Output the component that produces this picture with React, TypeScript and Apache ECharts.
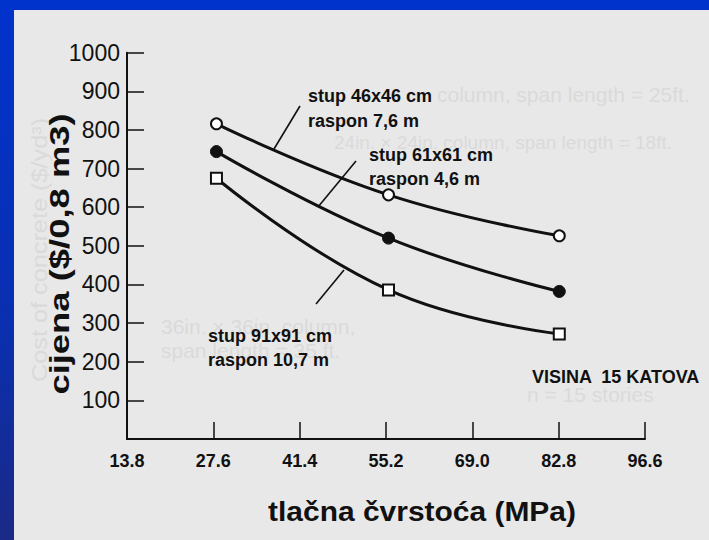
import React, { useEffect, useRef } from 'react';
import * as echarts from 'echarts';

// ---- data ----
const xTicks = [13.8, 27.6, 41.4, 55.2, 69.0, 82.8, 96.6];
const yTicks = [100, 200, 300, 400, 500, 600, 700, 800, 900, 1000];
const strengthX = [28.1, 55.6, 82.9];
const cost46 = [816, 632, 526];
const cost61 = [744, 520, 382];
const cost91 = [675, 386, 272];
const seriesNames = ['stup 46x46 cm', 'stup 61x61 cm', 'stup 91x91 cm'];
const spanNames = ['raspon 7,6 m', 'raspon 4,6 m', 'raspon 10,7 m'];
const xTitle = 'tlačna čvrstoća (MPa)';
const yTitle = 'cijena ($/0,8 m3)';
const noteText = 'VISINA  15 KATOVA';

const FONT = "'Liberation Sans', Arial, Helvetica, sans-serif";
const NARROW = "'Liberation Sans Narrow', 'Arial Narrow', 'Liberation Sans', Arial, sans-serif";
const INK = '#111111';
const GHOST = '#dadada';

export default function App() {
  const ref = useRef<HTMLDivElement>(null);

  useEffect(() => {
    if (!ref.current) return;
    const chart = echarts.init(ref.current, undefined, { renderer: 'svg' });

    const mk = (vals: number[]) => strengthX.map((x, i) => [x, vals[i]]);
    const lineBase = {
      type: 'line',
      smooth: 0.45,
      lineStyle: { color: INK, width: 3 },
      z: 3,
    };

    const txt = (text: string, x: number, y: number, extra: any = {}) => ({
      type: 'text',
      x,
      y,
      z: 10,
      style: {
        text,
        fill: INK,
        fontSize: 18,
        fontWeight: 'bold',
        fontFamily: FONT,
        textAlign: 'left',
        textVerticalAlign: 'middle',
        ...extra,
      },
    });
    const ghost = (text: string, x: number, y: number, extra: any = {}, el: any = {}) => ({
      type: 'text',
      x,
      y,
      z: 0,
      silent: true,
      ...el,
      style: {
        text,
        fill: GHOST,
        fontSize: 21,
        fontFamily: FONT,
        textAlign: 'left',
        textVerticalAlign: 'middle',
        ...extra,
      },
    });
    const lead = (x1: number, y1: number, x2: number, y2: number) => ({
      type: 'line',
      z: 10,
      shape: { x1, y1, x2, y2 },
      style: { stroke: INK, lineWidth: 1.6 },
    });

    chart.setOption({
      animation: false,
      backgroundColor: 'transparent',
      grid: { left: 127, top: 52.7, width: 518, height: 386.3, containLabel: false },
      xAxis: {
        type: 'value',
        min: xTicks[0],
        max: xTicks[xTicks.length - 1],
        interval: 13.8,
        axisLine: { show: true, onZero: false, lineStyle: { color: INK, width: 2 } },
        axisTick: { show: true, inside: true, length: 17, lineStyle: { color: INK, width: 1.5 } },
        axisLabel: {
          formatter: (v: number) => v.toFixed(1),
          fontSize: 18,
          fontWeight: 'bold',
          fontFamily: FONT,
          color: INK,
          margin: 13,
        },
        splitLine: { show: false },
      },
      yAxis: {
        type: 'value',
        min: 0,
        max: yTicks[yTicks.length - 1],
        interval: 100,
        axisLine: { show: true, onZero: false, lineStyle: { color: INK, width: 2 } },
        axisTick: { show: true, inside: true, length: 17, lineStyle: { color: INK, width: 1.5 } },
        axisLabel: {
          formatter: (v: number) => (v === 0 ? '' : String(v)),
          fontSize: 23,
          fontFamily: NARROW,
          color: INK,
          margin: 7,
        },
        splitLine: { show: false },
      },
      series: [
        {
          ...lineBase,
          name: seriesNames[0],
          data: mk(cost46),
          symbol: 'circle',
          symbolSize: 11,
          itemStyle: { color: '#ffffff', borderColor: INK, borderWidth: 2 },
        },
        {
          ...lineBase,
          name: seriesNames[1],
          data: mk(cost61),
          symbol: 'circle',
          symbolSize: 12,
          itemStyle: { color: INK, borderColor: INK, borderWidth: 1 },
        },
        {
          ...lineBase,
          name: seriesNames[2],
          data: mk(cost91),
          symbol: 'rect',
          symbolSize: 11,
          itemStyle: { color: '#ffffff', borderColor: INK, borderWidth: 2 },
        },
      ],
      graphic: [
        // faint show-through text of the original figure
        ghost('column, span length = 25ft.', 437, 94),
        ghost('24in. × 24in. column, span length = 18ft.', 334, 142, { fontSize: 19 }),
        ghost('36in. × 36in. column,', 161, 326),
        ghost('span length = 35 ft.', 161, 350),
        ghost('n = 15 stories', 527, 394),
        ghost('Cost of concrete ($/yd³)', 40, 250, { textAlign: 'center', fontSize: 22 }, { rotation: Math.PI / 2, scaleX: 1.15 }),
        // annotations
        txt(seriesNames[0], 308, 96),
        txt(spanNames[0], 308, 121),
        lead(300, 106, 274, 149),
        txt(seriesNames[1], 369, 155),
        txt(spanNames[1], 369, 179),
        lead(356, 161, 318, 207),
        txt(seriesNames[2], 208, 336),
        txt(spanNames[2], 208, 360),
        lead(344, 270, 316, 304),
        txt(noteText, 532, 377),
        // axis titles
        {
          type: 'text',
          x: 422,
          y: 511,
          z: 10,
          scaleX: 1.07,
          style: {
            text: xTitle,
            fill: INK,
            fontSize: 28,
            fontWeight: 'bold',
            fontFamily: FONT,
            textAlign: 'center',
            textVerticalAlign: 'middle',
          },
        },
        {
          type: 'text',
          x: 60,
          y: 254,
          z: 10,
          rotation: Math.PI / 2,
          scaleX: 1.3,
          style: {
            text: yTitle,
            fill: INK,
            fontSize: 28,
            fontWeight: 'bold',
            fontFamily: FONT,
            textAlign: 'center',
            textVerticalAlign: 'middle',
          },
        },
      ],
    });

    return () => chart.dispose();
  }, []);

  return (
    <div
      style={{
        position: 'fixed',
        left: 0,
        top: 0,
        width: 709,
        height: 540,
        background: 'linear-gradient(180deg, #0033cc 0%, #0a2fb0 60%, #1b2a86 100%)',
        overflow: 'hidden',
      }}
    >
      <div
        style={{
          position: 'absolute',
          left: 14,
          top: 10,
          width: 695,
          height: 530,
          background: '#e8e8e8',
        }}
      />
      <div ref={ref} style={{ position: 'absolute', left: 0, top: 0, width: 709, height: 540 }} />
    </div>
  );
}
